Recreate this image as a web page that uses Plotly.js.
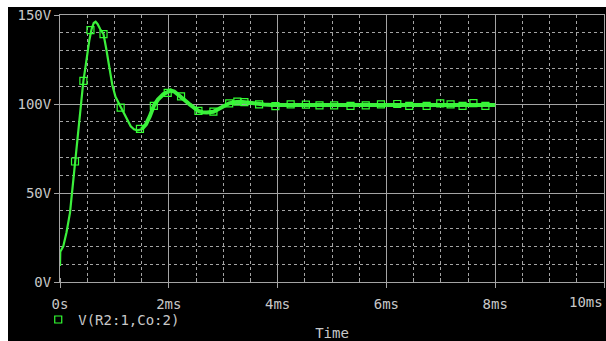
<!DOCTYPE html>
<html>
<head>
<meta charset="utf-8">
<script src="https://cdn.plot.ly/plotly-3.0.1.min.js"></script>
<style>
  html, body { margin: 0; padding: 0; background: #ffffff; width: 606px; height: 341px; overflow: hidden; }
  #chart { position: absolute; left: 8px; top: 7px; width: 598px; height: 334px; }
</style>
</head>
<body>
<div id="chart"></div>
<script>
// Waveform V(R2:1,Co:2): time in ms, voltage in V
const curveTime = [0, 0.005, 0.06, 0.12, 0.184, 0.276, 0.33, 0.386, 0.43, 0.46, 0.5, 0.54, 0.58, 0.62, 0.655, 0.69, 0.74, 0.8, 0.85, 0.906, 0.96, 1.02, 1.085, 1.15, 1.22, 1.3, 1.36, 1.42, 1.5, 1.58, 1.65, 1.725, 1.8, 1.9, 1.98, 2.03, 2.1, 2.225, 2.3, 2.39, 2.47, 2.545, 2.62, 2.7, 2.82, 2.92, 3.0, 3.11, 3.2, 3.31, 3.45, 3.6, 3.75, 3.9, 4.1, 4.4, 4.8, 5.2, 5.6, 6.0, 6.5, 7.0, 7.5, 8.0];
const curveVolts = [9, 17, 20, 28, 39, 67.7, 85, 102.4, 113, 119, 128, 136, 142, 145.5, 146.2, 145, 142, 139.2, 131, 120, 111, 104, 100, 96, 91.5, 87.5, 85.8, 85.2, 85.8, 88.5, 93, 99, 102.5, 105.5, 106.8, 107.6, 107, 104.3, 102, 99.6, 97.5, 96.1, 95.4, 95.2, 95.6, 97.2, 99, 100.4, 101, 101.3, 100.9, 100.2, 99.7, 99.4, 99.4, 99.5, 99.4, 99.3, 99.3, 99.5, 99.5, 99.5, 99.5, 99.5];

// Simulation sample points shown as open-square markers
const markerTime = [0.276, 0.43, 0.56, 0.80, 1.115, 1.47, 1.725, 1.98, 2.225, 2.545, 2.82, 3.11, 3.26, 3.39, 3.66, 3.96, 4.24, 4.52, 4.77, 5.04, 5.34, 5.62, 5.90, 6.20, 6.42, 6.74, 6.99, 7.18, 7.40, 7.60, 7.82];
const markerVolts = [67.7, 113, 141.5, 139.2, 98, 86, 99, 106.2, 104.3, 96.1, 95.7, 100.4, 101.3, 101.1, 99.8, 98.8, 99.8, 99.6, 99.2, 99.2, 99, 99.2, 99.8, 100, 99, 99, 100.3, 99.8, 99, 100.5, 99];

const seriesName = 'V(R2:1,Co:2)';
const xTickVals = [0, 2, 4, 6, 8, 10];
const xTickText = ['0s', '2ms', '4ms', '6ms', '8ms', ''];
const xLastTickText = '10ms';   // drawn right-aligned at the last tick
const yTickVals = [0, 50, 100, 150];
const yTickText = ['0V', '50V', '100V', '150V'];

const green = '#3cf03c';
const gridGray = '#a4a4a4';
const textGray = '#c8c8c8';
const font = { family: 'DejaVu Sans Mono, monospace', size: 14, color: textGray };

// thick tail segment (later part of the trace is drawn heavier)
const tailStart = curveTime.findIndex(t => t >= 1.5);

const traces = [
  {
    x: curveTime, y: curveVolts, type: 'scatter', mode: 'lines',
    line: { color: green, width: 2.2 }, showlegend: false, hoverinfo: 'skip'
  },
  {
    x: curveTime.slice(tailStart), y: curveVolts.slice(tailStart), type: 'scatter', mode: 'lines',
    line: { color: green, width: 4 }, showlegend: false, hoverinfo: 'skip'
  },
  {
    x: markerTime, y: markerVolts, type: 'scatter', mode: 'markers', name: seriesName,
    marker: { symbol: 'square-open', size: 7, color: '#33ff33', line: { width: 1.2, color: '#33ff33' } }
  }
];

const layout = {
  width: 598, height: 334,
  paper_bgcolor: '#000000', plot_bgcolor: '#000000',
  margin: { l: 52, r: 2, t: 8, b: 59 },
  font: font,
  showlegend: true,
  legend: {
    x: -0.04, xanchor: 'left', y: -0.142, yanchor: 'middle',
    bgcolor: 'rgba(0,0,0,0)', font: font, itemwidth: 30
  },
  annotations: [
    {
      text: xLastTickText, xref: 'x', x: xTickVals[xTickVals.length - 1], xanchor: 'right',
      yref: 'paper', y: -0.075, yanchor: 'middle', showarrow: false, font: font, xshift: 1
    }
  ],
  xaxis: {
    range: [0, 10], tickmode: 'array', tickvals: xTickVals, ticktext: xTickText,
    ticks: 'outside', ticklen: 5, tickcolor: gridGray, tickwidth: 1,
    ticklabelstandoff: 4, ticklabeloverflow: 'allow',
    showgrid: true, gridcolor: gridGray, gridwidth: 1,
    minor: { dtick: 0.5, showgrid: true, gridcolor: gridGray, griddash: '3px,3px', gridwidth: 1, ticks: 'inside', ticklen: 4, tickcolor: gridGray },
    showline: true, linecolor: gridGray, linewidth: 1, mirror: true, zeroline: false,
    tickfont: font,
    title: { text: 'Time', font: font, standoff: 19 }
  },
  yaxis: {
    range: [0, 150], tickmode: 'array', tickvals: yTickVals, ticktext: yTickText,
    ticks: 'outside', ticklen: 5, tickcolor: gridGray, tickwidth: 1,
    ticklabeloverflow: 'allow',
    showgrid: true, gridcolor: gridGray, gridwidth: 1,
    minor: { dtick: 10, showgrid: true, gridcolor: gridGray, griddash: '3px,3px', gridwidth: 1 },
    showline: true, linecolor: gridGray, linewidth: 1, mirror: true, zeroline: false,
    tickfont: font
  }
};

Plotly.newPlot('chart', traces, layout, { displayModeBar: false, staticPlot: true });
</script>
</body>
</html>
